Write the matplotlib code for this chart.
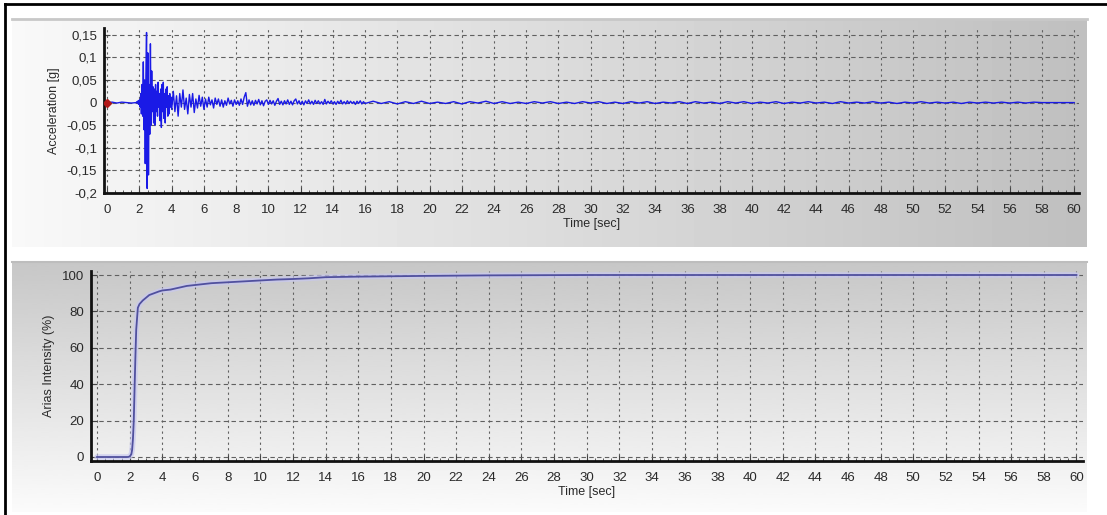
import numpy as np
import matplotlib
matplotlib.use("Agg")
import matplotlib.pyplot as plt
from matplotlib.ticker import MultipleLocator, FuncFormatter

plt.rcParams['font.family'] = ['Liberation Sans', 'DejaVu Sans']

# === Acceleration record ===
# quiet start
acc_pre_t = [0.0, 0.3, 0.6, 0.9, 1.2, 1.5]
acc_pre = [0.0, 0.001, -0.001, 0.001, 0.0, -0.001]

# strong motion, 1.80 .. 4.00 s every 0.04 s
acc_strong = [0.0, 0.002, -0.002, 0.004, -0.004, 0.006, -0.01, 0.02, -0.025, 0.04,
              -0.03, 0.09, -0.06, 0.05, -0.135, 0.06, 0.155, -0.19, 0.11, -0.16,
              0.04, -0.07, 0.13, -0.05, 0.07, -0.02, 0.035, -0.045, 0.03, -0.05,
              0.04, -0.02, 0.025, -0.03, 0.045, -0.01, 0.02, -0.04, 0.03, -0.055,
              0.04, -0.02, 0.045, -0.035, 0.02, -0.045, 0.03, -0.01, 0.035, -0.03,
              0.015, -0.025, 0.02, -0.01, 0.012, -0.015]

# coda, 4.1 .. 16.0 s every 0.1 s
acc_coda = [0.025, -0.02, 0.015, -0.03, 0.02, -0.01, 0.028, -0.015, 0.01, -0.025,
            0.018, -0.01, 0.02, -0.022, 0.008, -0.012, 0.016, -0.008, 0.012, -0.015,
            0.008, -0.01, 0.012, -0.005, 0.006, -0.012, 0.01, -0.004, 0.008, -0.008,
            0.006, -0.01, 0.004, -0.006, 0.01, -0.003, 0.005, -0.008, 0.006, -0.004,
            0.004, -0.006, 0.008, -0.004, 0.012, 0.022, -0.008, 0.006, -0.005, 0.004,
            -0.006, 0.005, -0.003, 0.007, -0.005, 0.004, -0.007, 0.003, 0.006, -0.004,
            0.005, -0.003, 0.004, -0.006, 0.003, 0.009, -0.004, 0.003, -0.005, 0.004,
            -0.003, 0.006, -0.004, 0.003, -0.005, 0.004, 0.008, -0.003, 0.004, -0.004,
            0.003, -0.005, 0.004, -0.002, 0.006, -0.003, 0.003, -0.004, 0.005, -0.002,
            0.004, -0.003, 0.002, -0.004, 0.007, -0.003, 0.003, -0.002, 0.004, -0.003,
            0.002, -0.004, 0.003, -0.002, 0.005, -0.003, 0.002, -0.003, 0.004, -0.002,
            0.003, -0.002, 0.002, -0.004, 0.003, -0.002, 0.004, -0.003, 0.002, -0.002]

# tail, 16.5 .. 58.0 s every 0.5 s
acc_tail = [0.003, -0.002, 0.002, -0.003, 0.002, -0.002, 0.003, -0.002, 0.001, -0.002,
            0.002, -0.003, 0.002, -0.001, 0.003, -0.002, 0.002, -0.002, 0.001, -0.002,
            0.002, -0.001, 0.002, -0.002, 0.001, -0.002, 0.002, -0.001, 0.002, -0.002,
            0.001, -0.002, 0.002, -0.001, 0.002, -0.002, 0.001, -0.001, 0.002, -0.002,
            0.002, -0.001, 0.001, -0.002, 0.002, -0.001, 0.002, -0.002, 0.001, -0.001,
            0.002, -0.002, 0.001, -0.001, 0.002, -0.001, 0.001, -0.002, 0.002, -0.001,
            0.001, -0.001, 0.002, -0.001, 0.001, -0.002, 0.001, -0.001, 0.002, -0.001,
            0.001, -0.001, 0.001, -0.002, 0.001, -0.001, 0.001, -0.001, 0.001, -0.001,
            0.001, -0.001, 0.001, 0.0]

acc_end_t = [60.0]
acc_end = [0.0]

# === Arias intensity (%) ===
arias_t = [0, 1.9, 2.0, 2.1, 2.15, 2.2, 2.25, 2.3, 2.35, 2.4, 2.45, 2.5, 2.6, 2.8,
           3.0, 3.2, 3.5, 3.8, 4.0, 4.5, 5.0, 5.5, 6.0, 7.0, 8.0, 9.0, 10.0, 11.0,
           12.0, 13.0, 14.0, 16.0, 18.0, 20.0, 24.0, 30.0, 40.0, 50.0, 60.0]
arias_v = [0, 0, 0.3, 1.5, 4, 10, 20, 38, 55, 70, 76, 82, 84, 86,
           87.5, 89, 90, 91, 91.5, 92, 93, 94, 94.5, 95.5, 96, 96.5, 97, 97.5,
           97.8, 98.2, 98.8, 99.1, 99.3, 99.5, 99.8, 100, 100, 100, 100]

acc_t = np.concatenate([acc_pre_t,
                        1.80 + 0.04 * np.arange(len(acc_strong)),
                        4.1 + 0.1 * np.arange(len(acc_coda)),
                        16.5 + 0.5 * np.arange(len(acc_tail)),
                        acc_end_t])
acc_v = np.concatenate([acc_pre, acc_strong, acc_coda, acc_tail, acc_end])

W, H = 1107, 515
fig = plt.figure(figsize=(W / 100, H / 100), dpi=100)
fig.patch.set_facecolor('white')


def frac(left, top, right, bottom):
    return [left / W, 1 - bottom / H, (right - left) / W, (bottom - top) / H]


# === Backgrounds (pixel coordinates) ===
bg = fig.add_axes([0, 0, 1, 1], zorder=-5)
bg.set_xlim(0, W)
bg.set_ylim(H, 0)
bg.axis('off')

grad_h = np.linspace(0.975, 0.75, 256).reshape(1, -1)
bg.imshow(grad_h, extent=[12, 1087, 247, 19], cmap='gray', vmin=0, vmax=1,
          aspect='auto', interpolation='bicubic')
bg.plot([12, 1087], [18.5, 18.5], color='#c8c8c8', lw=2)

grad_v = np.linspace(0.78, 0.985, 256).reshape(-1, 1)
bg.imshow(grad_v, extent=[12, 1087, 512, 262], cmap='gray', vmin=0, vmax=1,
          aspect='auto', interpolation='bicubic')
bg.plot([12, 1087], [262, 262], color='#bdbdbd', lw=1.5)

# outer frame (top and left)
bg.plot([5, W], [3.5, 3.5], color='black', lw=2)
bg.plot([5, 5], [3.5, H], color='black', lw=2)

comma = FuncFormatter(lambda v, p: ('%g' % round(v, 3)).replace('.', ','))
text_col = '#2a2a2a'


def style(ax):
    ax.set_facecolor('none')
    for s in ['top', 'right']:
        ax.spines[s].set_visible(False)
    for s in ['left', 'bottom']:
        ax.spines[s].set_linewidth(2)
        ax.spines[s].set_color('#111111')
    ax.xaxis.set_major_locator(MultipleLocator(2))
    ax.xaxis.set_minor_locator(MultipleLocator(0.5))
    ax.tick_params(axis='both', which='both', direction='in', colors='#444444',
                   labelcolor=text_col, labelsize=9.5)
    ax.tick_params(axis='x', which='major', length=4, pad=8)
    ax.tick_params(axis='x', which='minor', length=2.5)
    ax.tick_params(axis='y', which='major', length=4, pad=5)
    ax.grid(True, axis='x', color='#606060', lw=0.8, dashes=(2, 3))
    ax.grid(True, axis='y', color='#606060', lw=0.8, dashes=(4, 3))
    ax.set_axisbelow(True)
    ax.set_xlabel('Time [sec]', fontsize=9, color=text_col, labelpad=1)


# === Top: acceleration ===
ax1 = fig.add_axes(frac(104, 28, 1079, 193))
style(ax1)
ax1.plot(acc_t, acc_v, color='#1a1ae6', lw=1.0, zorder=3)
ax1.plot([0], [0], marker='D', color='#b01818', ms=4, zorder=4)
ax1.set_xlim(-0.2, 60.3)
ax1.set_ylim(-0.2, 0.165)
ax1.set_yticks([-0.2, -0.15, -0.1, -0.05, 0, 0.05, 0.1, 0.15])
ax1.yaxis.set_major_formatter(comma)
ax1.set_ylabel('Acceleration [g]', fontsize=9, color=text_col, labelpad=5)

# === Bottom: Arias intensity ===
ax2 = fig.add_axes(frac(91, 271, 1083, 461))
style(ax2)
ax2.plot(arias_t, arias_v, color='#c8c8f0', lw=4, alpha=0.7, zorder=2,
         solid_capstyle='round')
ax2.plot(arias_t, arias_v, color='#50509e', lw=1.3, zorder=3)
ax2.set_xlim(-0.37, 60.4)
ax2.set_ylim(-2.2, 102.2)
ax2.set_yticks([0, 20, 40, 60, 80, 100])
ax2.set_ylabel('Arias Intensity (%)', fontsize=9, color=text_col, labelpad=5)

fig.savefig('out.png', dpi=100)
